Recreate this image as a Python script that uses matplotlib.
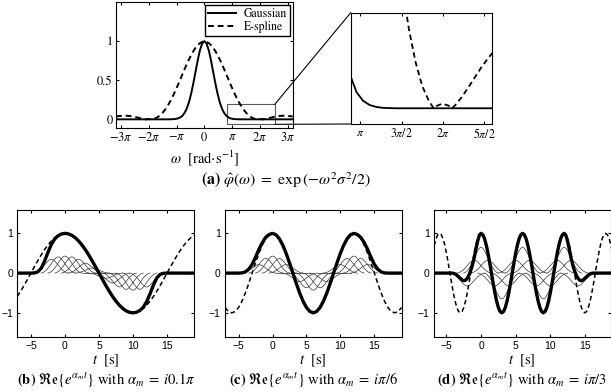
import numpy as np
import matplotlib
matplotlib.use('Agg')
import matplotlib.pyplot as plt
from matplotlib.patches import Rectangle, ConnectionPatch

# global plotting options
plt.rcParams['font.family'] = 'serif'
plt.rcParams['font.serif'] = ['STIXGeneral', 'Liberation Serif', 'DejaVu Serif']
plt.rcParams['mathtext.fontset'] = 'stix'
plt.rcParams['xtick.direction'] = 'in'
plt.rcParams['ytick.direction'] = 'in'
plt.rcParams['xtick.top'] = True
plt.rcParams['ytick.right'] = True
plt.rcParams['xtick.major.size'] = 2.5
plt.rcParams['ytick.major.size'] = 2.5
plt.rcParams['axes.linewidth'] = 0.8

# %% data: (a) frequency responses
omega = [-10, -9.75, -9.5, -9.25, -9, -8.75, -8.5, -8.25, -8, -7.75, -7.5,
         -7.25, -7, -6.75, -6.63, -6.5, -6.25, -6, -5.93, -5.75, -5.5, -5.25,
         -5, -4.75, -4.5, -4.25, -4, -3.75, -3.5, -3.25, -3, -2.75, -2.5,
         -2.25, -2, -1.75, -1.5, -1.25, -1, -0.75, -0.5, -0.25, 0,
         0.25, 0.5, 0.75, 1, 1.25, 1.5, 1.75, 2, 2.25, 2.5, 2.75, 3, 3.25,
         3.5, 3.75, 4, 4.25, 4.5, 4.75, 5, 5.25, 5.5, 5.75, 5.93, 6, 6.25,
         6.5, 6.63, 6.75, 7, 7.25, 7.5, 7.75, 8, 8.25, 8.5, 8.75, 9, 9.25,
         9.5, 9.75, 10]
gauss = [0.0] * 25 + \
        [0.0001, 0.0003, 0.0009, 0.0022, 0.0051, 0.011, 0.023, 0.044, 0.080,
         0.135, 0.216, 0.325, 0.458, 0.607, 0.755, 0.883, 0.969, 1.0,
         0.969, 0.883, 0.755, 0.607, 0.458, 0.325, 0.216, 0.135, 0.080,
         0.044, 0.023, 0.011, 0.0051, 0.0022, 0.0009, 0.0003, 0.0001] + \
        [0.0] * 25
espline = [0.0358, 0.040, 0.0432, 0.0453, 0.046, 0.0452, 0.0431, 0.0393,
           0.0341, 0.028, 0.0211, 0.0142, 0.0076, 0.0021, 0.0, 0.0018,
           0.0031, 0.0012, 0.0, 0.005, 0.015, 0.031, 0.053, 0.081, 0.115,
           0.155, 0.202, 0.254, 0.311, 0.372, 0.437, 0.504, 0.571, 0.638,
           0.703, 0.764, 0.821, 0.871, 0.914, 0.949, 0.974, 0.990, 1.0,
           0.990, 0.974, 0.949, 0.914, 0.871, 0.821, 0.764, 0.703, 0.638,
           0.571, 0.504, 0.437, 0.372, 0.311, 0.254, 0.202, 0.155, 0.115,
           0.081, 0.053, 0.031, 0.015, 0.005, 0.0, 0.0012, 0.0031, 0.0018,
           0.0, 0.0021, 0.0076, 0.0142, 0.0211, 0.028, 0.0341, 0.0393,
           0.0431, 0.0452, 0.046, 0.0453, 0.0432, 0.040, 0.0358]

pi_ticks = [-3 * np.pi, -2 * np.pi, -np.pi, 0, np.pi, 2 * np.pi, 3 * np.pi]
pi_labels = [r'$-3\pi$', r'$-2\pi$', r'$-\pi$', r'$0$', r'$\pi$',
             r'$2\pi$', r'$3\pi$']
zoom_ticks = [np.pi, 1.5 * np.pi, 2 * np.pi, 2.5 * np.pi]
zoom_labels = [r'$\pi$', r'$3\pi/2$', r'$2\pi$', r'$5\pi/2$']

# %% data: (b)-(d) reproduction of exponentials
t_coarse = np.arange(-7, 19.01, 0.5)
t_fine = np.arange(-7, 19.01, 0.25)
kern_off = np.arange(-2.5, 2.51, 0.25)
kern = [0, 0.03, 0.09, 0.18, 0.29, 0.43, 0.58, 0.73, 0.86, 0.965, 1.0,
        0.965, 0.86, 0.73, 0.58, 0.43, 0.29, 0.18, 0.09, 0.03, 0]

# (b) alpha = i 0.1 pi
cos_b = [-.588, -.454, -.309, -.156, 0, .156, .309, .454, .588, .707, .809,
         .891, .951, .988, 1, .988, .951, .891, .809, .707, .588, .454, .309,
         .156, 0, -.156, -.309, -.454, -.588, -.707, -.809, -.891, -.951,
         -.988, -1, -.988, -.951, -.891, -.809, -.707, -.588, -.454, -.309,
         -.156, 0, .156, .309, .454, .588, .707, .809, .891, .951]
sum_b = [0, 0, 0, 0, 0, .005, .03, .12, .3, .52, .72, .86, .94, .985, 1,
         .988, .951, .891, .809, .707, .588, .454, .309, .156, 0, -.156,
         -.309, -.454, -.588, -.707, -.809, -.891, -.951, -.988,
         -1, -.985, -.94, -.86, -.72, -.52, -.3, -.12, -.03, -.005,
         0, 0, 0, 0, 0, 0, 0, 0, 0]
knots_b = list(range(-2, 13))
w_b = [.35, .41, .43, .41, .35, .25, .13, 0, -.13, -.25, -.35, -.41, -.43,
       -.41, -.35]

# (c) alpha = i pi/6
cos_c = [-.866, -.966, -1, -.966, -.866, -.707, -.5, -.259, 0, .259, .5,
         .707, .866, .966, 1, .966, .866, .707, .5, .259, 0, -.259, -.5,
         -.707, -.866, -.966, -1, -.966, -.866, -.707, -.5, -.259, 0, .259,
         .5, .707, .866, .966, 1, .966, .866, .707, .5, .259, 0, -.259, -.5,
         -.707, -.866, -.966, -1, -.966, -.866]
sum_c = [0, 0, 0, 0, 0, .005, .03, .1, .22, .4, .6, .77, .9, .97, 1,
         .966, .866, .707, .5, .259, 0, -.259, -.5, -.707, -.866, -.966, -1,
         -.966, -.866, -.707, -.5, -.259, 0, .259, .5, .707, .866, .966,
         1, .97, .9, .77, .6, .4, .22, .1, .03, .005, 0, 0, 0, 0, 0]
knots_c = list(range(-2, 15))
w_c = [.215, .37, .43, .37, .215, 0, -.215, -.37, -.43, -.37, -.215, 0,
       .215, .37, .43, .37, .215]

# (d) alpha = i pi/3
cos_d = [.5, .707, .866, .966,
         1, .966, .866, .707, .5, .259, 0, -.259, -.5, -.707, -.866, -.966,
         -1, -.966, -.866, -.707, -.5, -.259, 0, .259, .5, .707, .866, .966,
         1, .966, .866, .707, .5, .259, 0, -.259, -.5, -.707, -.866, -.966,
         -1, -.966, -.866, -.707, -.5, -.259, 0, .259, .5, .707, .866, .966,
         1, .966, .866, .707, .5, .259, 0, -.259, -.5, -.707, -.866, -.966,
         -1, -.966, -.866, -.707, -.5, -.259, 0, .259, .5, .707, .866, .966,
         1, .966, .866, .707, .5, .259, 0, -.259, -.5, -.707, -.866, -.966,
         -1, -.966, -.866, -.707, -.5, -.259, 0, .259, .5, .707, .866, .966,
         1, .966, .866, .707, .5]
sum_d = [0] * 12 + \
        [-.005, -.02, -.05, -.09, -.13, -.17, -.19, -.18, -.13, -.05, .06,
         .2, .38, .6, .8, .95,
         1, .966, .866, .707, .5, .259, 0, -.259, -.5, -.707, -.866, -.966,
         -1, -.966, -.866, -.707, -.5, -.259, 0, .259, .5, .707, .866, .966,
         1, .966, .866, .707, .5, .259, 0, -.259, -.5, -.707, -.866, -.966,
         -1, -.966, -.866, -.707, -.5, -.259, 0, .259, .5, .707, .866, .966,
         1,
         .95, .8, .6, .38, .2, .06, -.05, -.13, -.18, -.19, -.17, -.13, -.09,
         -.05, -.02, -.005] + [0] * 12
knots_d = list(range(-2, 15))
w_d = [-.325, .325, .65, .325, -.325, -.65, -.325, .325, .65, .325, -.325,
       -.65, -.325, .325, .65, .325, -.325]

captions = [r'$\mathbf{(b)}\ \Re\mathfrak{e}\{e^{\alpha_m t}\}$ with $\alpha_m\;=\;i0.1\pi$',
            r'$\mathbf{(c)}\ \Re\mathfrak{e}\{e^{\alpha_m t}\}$ with $\alpha_m\;=\;i\pi/6$',
            r'$\mathbf{(d)}\ \Re\mathfrak{e}\{e^{\alpha_m t}\}$ with $\alpha_m\;=\;i\pi/3$']

W, H = 611., 392.


def px_axes(fig, left, top, right, bottom):
    return fig.add_axes([left / W, 1 - bottom / H, (right - left) / W,
                         (bottom - top) / H])


fig = plt.figure(figsize=(W / 100, H / 100), dpi=100)

# %% (a) main panel
ax = px_axes(fig, 116, 2, 292.7, 127.7)
ax.plot(omega, gauss, 'k-', lw=1.4, label='Gaussian')
ax.plot(omega, espline, 'k--', lw=1.4, dashes=(3, 2), label='E-spline')
ax.set_xlim(-10, 10)
ax.set_ylim(-0.107, 1.5)
ax.set_xticks(pi_ticks)
ax.set_xticklabels(pi_labels)
ax.set_yticks([0, 0.5, 1])
ax.set_yticklabels(['0', '0.5', '1'])
ax.tick_params(labelsize=9, pad=2.5)
ax.set_xlabel(r'$\omega$  [rad$\cdot$s$^{-1}$]', fontsize=10.5, labelpad=3)
ax.legend(loc='upper right', fontsize=8.5, frameon=True, fancybox=False,
          edgecolor='k', framealpha=1, borderaxespad=0.25, borderpad=0.25,
          labelspacing=0.1, handlelength=2.4, handletextpad=0.6)

# zoom box
box_x = (2.53, 7.96)
box_y = (-0.064, 0.19)
ax.add_patch(Rectangle((box_x[0], box_y[0]), box_x[1] - box_x[0],
                       box_y[1] - box_y[0], fill=False, ec='0.35', lw=0.8))

# (a) inset
axi = px_axes(fig, 350.7, 12.7, 492.3, 124)
axi.plot(omega, gauss, 'k-', lw=1.3)
axi.plot(omega, espline, 'k--', lw=1.3, dashes=(3, 2))
axi.set_xlim(2.78, 8.16)
axi.set_ylim(-0.0107, 0.065)
axi.set_xticks(zoom_ticks)
axi.set_xticklabels(zoom_labels)
axi.set_yticks([])
axi.tick_params(labelsize=8.5, pad=2.5)

for ya, yb in [(box_y[1], 1), (box_y[0], 0)]:
    con = ConnectionPatch(xyA=(box_x[1], ya), coordsA=ax.transData,
                          xyB=(0, yb), coordsB=axi.transAxes,
                          color='k', lw=0.8)
    fig.add_artist(con)

fig.text(286 / W, 1 - 180 / H,
         r'$\mathbf{(a)}\ \hat{\varphi}(\omega)\;=\;\exp\left(-\omega^2\sigma^2/2\right)$',
         ha='center', va='center', fontsize=11.5)

# %% (b)-(d)
panels = [(17.3, 194.3, t_coarse, cos_b, sum_b, knots_b, w_b, (-7, 19)),
          (225, 401.5, t_coarse, cos_c, sum_c, knots_c, w_c, (-7, 19)),
          (434, 610.5, t_fine, cos_d, sum_d, knots_d, w_d, (-6.8, 18.7))]

for (left, right, t, dash, thick, knots, w, xl), cap in zip(panels, captions):
    a = px_axes(fig, left, 209.5, right, 336.7)
    a.plot(t, dash, 'k--', lw=1.1, dashes=(3, 2))
    for k, wk in zip(knots, w):
        a.plot(k + kern_off, wk * np.array(kern), color='0.2', lw=0.5)
    a.plot(t, thick, 'k-', lw=2.4, solid_capstyle='round')
    a.set_xlim(*xl)
    a.set_ylim(-1.6, 1.6)
    a.set_xticks([-5, 0, 5, 10, 15])
    a.set_yticks([-1, 0, 1])
    for lab in a.get_xticklabels() + a.get_yticklabels():
        lab.set_family('Liberation Sans')
    a.tick_params(labelsize=7.5, pad=3)
    a.set_xlabel(r'$t$  [s]', fontsize=10.5, labelpad=1)
    a.text(0.5, -0.345, cap, transform=a.transAxes, ha='center',
           va='center', fontsize=10.5)

plt.savefig('out.png', dpi=100)
